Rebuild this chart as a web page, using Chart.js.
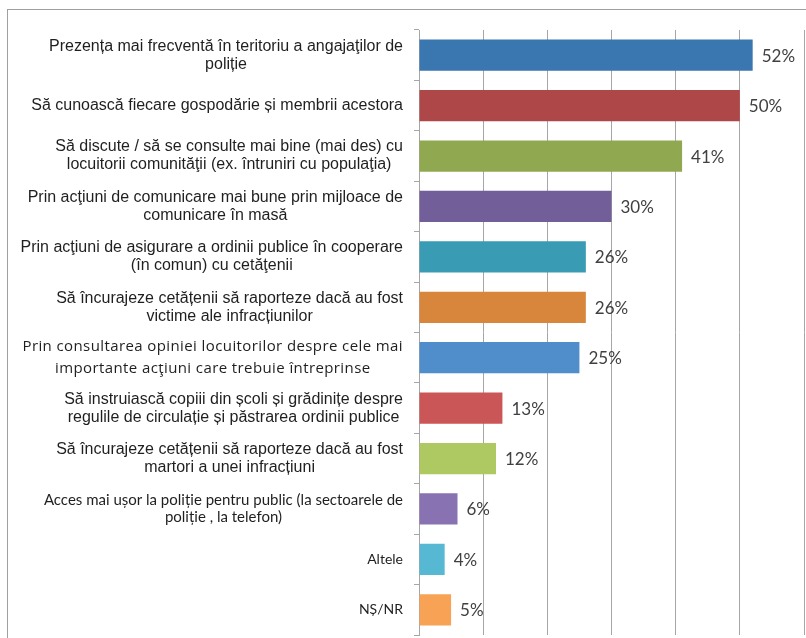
<!DOCTYPE html>
<html>

<head>
  <title>Propuneri politie</title>
  <meta charset="UTF-8">
  <script src="https://cdn.jsdelivr.net/npm/chart.js@4"></script>
  <style>
    body {
      margin: 0;
      background: white;
    }

    canvas {
      display: block;
    }
  </style>
</head>

<body>
  <canvas id="mainChart" width="806" height="638"></canvas>

  <script>
    const categories = [
      ['Prezența mai frecventă în teritoriu a angajaţilor de', 'poliție'],
      ['Să cunoască fiecare gospodărie și membrii acestora'],
      ['Să discute / să se consulte mai bine (mai des) cu', 'locuitorii comunităţii (ex. întruniri cu populaţia)'],
      ['Prin acţiuni de comunicare mai bune prin mijloace de', 'comunicare în masă'],
      ['Prin acţiuni de asigurare a ordinii publice în cooperare', '(în comun) cu cetăţenii'],
      ['Să încurajeze cetățenii să raporteze dacă au fost', 'victime ale infracțiunilor'],
      ['Prin consultarea opiniei locuitorilor despre cele mai', 'importante acţiuni care trebuie întreprinse'],
      ['Să instruiască copiii din școli și grădinițe despre', 'regulile de circulație și păstrarea ordinii publice'],
      ['Să încurajeze cetățenii să raporteze dacă au fost', 'martori a unei infracțiuni'],
      ['Acces mai ușor la poliție pentru public (la sectoarele de', 'poliție , la telefon)'],
      ['Altele'],
      ['NȘ/NR']
    ];
    const values = [52, 50, 41, 30, 26, 26, 25, 13, 12, 6, 4, 5];
    const barColors = ['#3A76AF', '#AE4848', '#90A850', '#725E98', '#3A9BB4', '#D8863C',
      '#4F8DCB', '#CB5657', '#AEC862', '#8872B2', '#57B8D4', '#F7A254'];

    // label styling, keyed by category index (the original mixes fonts)
    const arialStyle = { font: '16px "Liberation Sans", Arial, sans-serif', spacing: '0px', lineHeight: 18 };
    const labelStyles = {
      6: { font: '15px "Open Sans", Lato, sans-serif', spacing: '0.4px', lineHeight: 22 },
      9: { font: '15px Lato, "Open Sans", sans-serif', spacing: '0px', lineHeight: 17 },
      10: { font: '14px Lato, "Open Sans", sans-serif', spacing: '0px', lineHeight: 17 },
      11: { font: '14px Lato, "Open Sans", sans-serif', spacing: '0px', lineHeight: 17 }
    };

    // outer frame
    const framePlugin = {
      id: 'frame',
      beforeDraw(chart) {
        const ctx = chart.ctx;
        ctx.save();
        ctx.strokeStyle = '#A0A0A0';
        ctx.lineWidth = 1;
        ctx.strokeRect(7.5, 9.5, 900, 700);
        ctx.restore();
      }
    };

    // category labels: block right-aligned, lines centered inside the block
    const labelPlugin = {
      id: 'catLabels',
      afterDraw(chart) {
        const ctx = chart.ctx;
        const yScale = chart.scales.y;
        const right = 403;
        ctx.save();
        ctx.fillStyle = '#1f1f1f';
        ctx.textBaseline = 'middle';
        ctx.textAlign = 'center';
        categories.forEach((lines, i) => {
          const st = labelStyles[i] || arialStyle;
          ctx.font = st.font;
          ctx.letterSpacing = st.spacing;
          const maxW = Math.max(...lines.map(l => ctx.measureText(l).width));
          const cx = right - maxW / 2;
          const cy = yScale.getPixelForValue(i);
          const startY = cy - (lines.length - 1) * st.lineHeight / 2;
          lines.forEach((l, j) => ctx.fillText(l, cx, startY + j * st.lineHeight));
        });
        ctx.restore();
      }
    };

    // value labels after each bar
    const valuePlugin = {
      id: 'values',
      afterDatasetsDraw(chart) {
        const ctx = chart.ctx;
        const meta = chart.getDatasetMeta(0);
        ctx.save();
        ctx.font = '17px Lato, "Open Sans", sans-serif';
        ctx.fillStyle = '#404040';
        ctx.textBaseline = 'middle';
        ctx.textAlign = 'left';
        meta.data.forEach((bar, i) => {
          ctx.fillText(values[i] + '%', bar.x + 9, bar.y + 1);
        });
        ctx.restore();
      }
    };

    const ctx = document.getElementById('mainChart').getContext('2d');
    new Chart(ctx, {
      type: 'bar',
      data: {
        labels: categories.map(c => c.join(' ')),
        datasets: [{
          data: values,
          backgroundColor: barColors,
          barPercentage: 0.62,
          categoryPercentage: 1
        }]
      },
      options: {
        indexAxis: 'y',
        responsive: false,
        animation: false,
        layout: {
          padding: { left: 414, right: 2, top: 30, bottom: 3 }
        },
        plugins: {
          legend: { display: false },
          tooltip: { enabled: false }
        },
        scales: {
          x: {
            min: 0,
            max: 60,
            ticks: { display: false, stepSize: 10 },
            grid: { color: '#A6A6A6', drawTicks: false },
            border: { display: false }
          },
          y: {
            ticks: { display: false },
            grid: {
              drawOnChartArea: false,
              drawTicks: true,
              tickLength: 5,
              color: '#A6A6A6'
            },
            border: { display: true, color: '#A6A6A6' }
          }
        }
      },
      plugins: [framePlugin, labelPlugin, valuePlugin]
    });
  </script>
</body>

</html>
